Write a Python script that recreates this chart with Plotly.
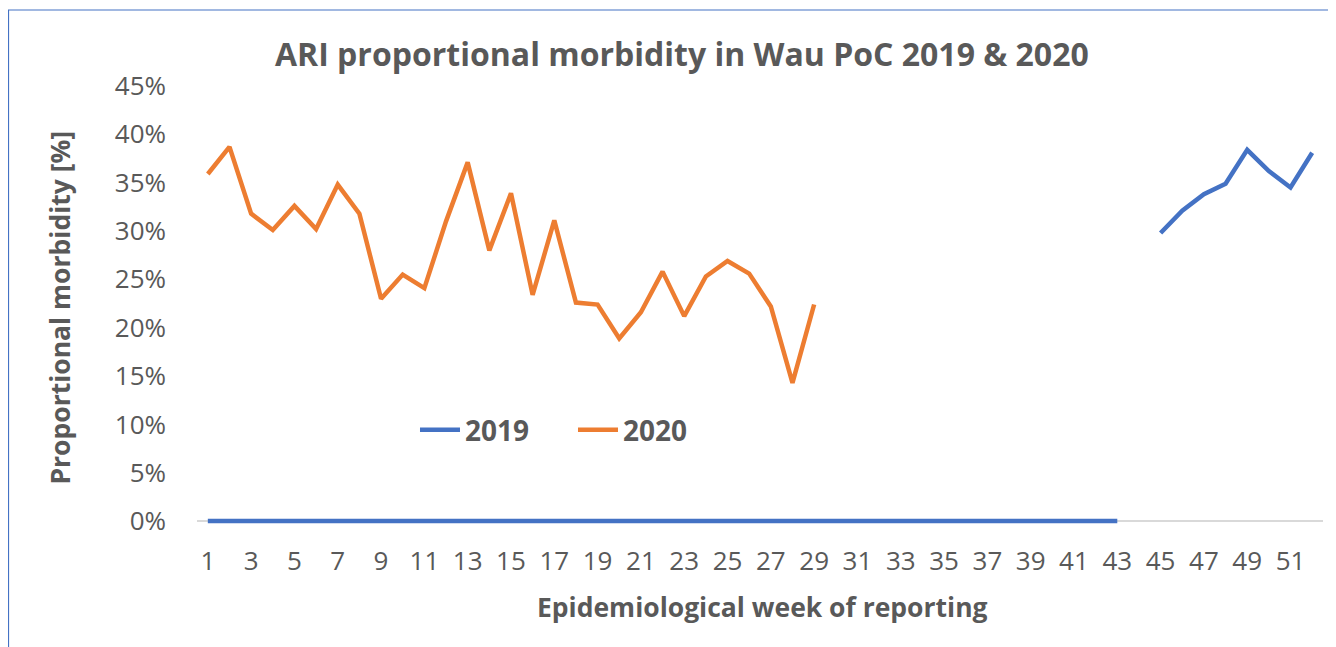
import plotly.graph_objects as go

weeks_2019 = list(range(1, 44)) + list(range(45, 53))
ari_2019 = [0.0] * 43 + [29.8, 32.1, 33.8, 34.9, 38.4, 36.2, 34.5, 38.1]

weeks_2020 = list(range(1, 30))
ari_2020 = [35.9, 38.7, 31.8, 30.1, 32.6, 30.2, 34.8, 31.8, 23.0, 25.5,
            24.1, 31.0, 37.1, 28.0, 33.9, 23.4, 31.1, 22.6, 22.4, 18.9,
            21.6, 25.8, 21.2, 25.3, 26.9, 25.6, 22.2, 14.3, 22.4]

week_ticks = list(range(1, 53, 2))
pct_ticks = [0, 5, 10, 15, 20, 25, 30, 35, 40, 45]

grey = "#595959"
font = "Open Sans"

fig = go.Figure()
# 2019 has no data for week 44 -> split into two pieces with a gap
x19 = weeks_2019[:43] + [44] + weeks_2019[43:]
y19 = [v / 100 for v in ari_2019[:43]] + [None] + [v / 100 for v in ari_2019[43:]]
fig.add_trace(go.Scatter(x=x19, y=y19, mode="lines", name="2019",
                         line=dict(color="#4472C4", width=4.5),
                         connectgaps=False))
fig.add_trace(go.Scatter(x=weeks_2020, y=[v / 100 for v in ari_2020], mode="lines",
                         name="2020", line=dict(color="#ED7D31", width=4.5)))

fig.update_layout(
    width=1336, height=647,
    margin=dict(l=189, r=21, t=78, b=131),
    paper_bgcolor="white", plot_bgcolor="white",
    font=dict(family=font, color=grey),
    showlegend=True,
    legend=dict(orientation="h", x=0.1936, y=0.2146, xanchor="left", yanchor="middle",
                font=dict(size=28, family=font, color=grey, weight="bold"),
                bgcolor="rgba(0,0,0,0)", itemwidth=40, entrywidth=103),
    xaxis=dict(range=[0.5, 52.5], tickmode="array", tickvals=week_ticks,
               ticktext=[str(w) for w in week_ticks], showgrid=False,
               zeroline=False, showline=False, ticks="",
               tickfont=dict(size=26, color=grey), ticklabelstandoff=19),
    yaxis=dict(range=[-0.003, 0.45], tickmode="array",
               tickvals=[p / 100 for p in pct_ticks],
               ticktext=[f"{p}%" for p in pct_ticks], showgrid=False,
               zeroline=True, zerolinecolor="#D9D9D9", zerolinewidth=1.5,
               showline=False, ticks="",
               tickfont=dict(size=26, color=grey), ticklabelstandoff=30),
    annotations=[
        dict(text="<b>ARI proportional morbidity in Wau PoC 2019 & 2020</b>",
             x=0.4307, y=1.0753, xref="paper", yref="paper", showarrow=False,
             xanchor="center", yanchor="middle", font=dict(size=32, color=grey)),
        dict(text="<b>Proportional morbidity [%]</b>", textangle=-90,
             x=-0.1217, y=0.494, xref="paper", yref="paper", showarrow=False,
             xanchor="center", yanchor="middle", font=dict(size=26.5, color=grey)),
        dict(text="<b>Epidemiological week of reporting</b>",
             x=0.502, y=-0.1895, xref="paper", yref="paper", showarrow=False,
             xanchor="center", yanchor="middle", font=dict(size=26.5, color=grey)),
    ],
    shapes=[
        dict(type="path", xref="paper", yref="paper",
             path="M -0.1674,-0.35 L -0.1674,1.1735 L 1.2,1.1735",
             line=dict(color="#4472C4", width=1.2)),
    ],
)

fig.write_html("out.html")
